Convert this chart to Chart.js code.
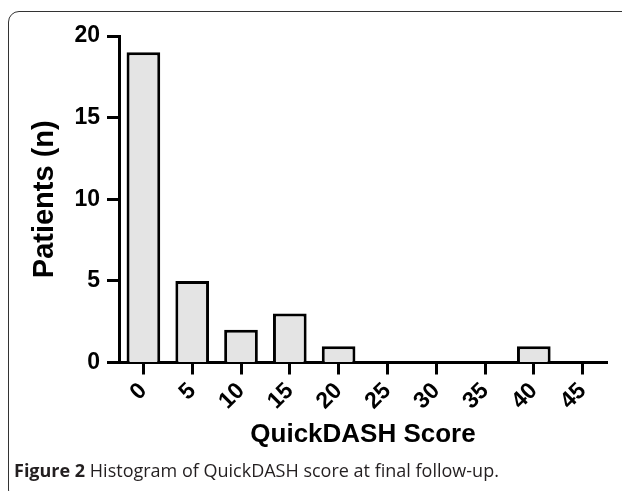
<!DOCTYPE html>
<html>
<head>
<meta charset="utf-8">
<script src="https://cdn.jsdelivr.net/npm/chart.js@4"></script>
<style>
  html, body { margin: 0; padding: 0; width: 622px; height: 491px; overflow: hidden; background: #fff; }
  #frame {
    position: absolute; left: 8px; top: 11px; width: 640px; height: 490px;
    border: 1.5px solid #333; border-radius: 11px; box-sizing: border-box;
  }
  #myChart { position: absolute; left: 0; top: 0; }
  #caption {
    position: absolute; left: 14px; top: 458px; white-space: nowrap;
    font-family: "Open Sans", sans-serif; font-size: 18px; color: #231f20;
  }
  #caption b { font-weight: 700; }
</style>
</head>
<body>
<div id="frame"></div>
<canvas id="myChart" width="622" height="491"></canvas>
<div id="caption"><b>Figure 2</b> Histogram of QuickDASH score at final follow-up.</div>
<script>
// QuickDASH score bins and counts
var scores = ['0', '5', '10', '15', '20', '25', '30', '35', '40', '45'];
var patients = [19, 5, 2, 3, 1, 0, 0, 0, 1, 0];
var yTicks = [0, 5, 10, 15, 20];

var ctx = document.getElementById("myChart");

const histChart = new Chart(ctx, {
    type: 'bar',
    data: {
        labels: scores,
        datasets: [{
            data: patients,
            backgroundColor: '#e4e4e4',
            borderColor: '#000',
            borderWidth: 3,
            categoryPercentage: 1,
            barPercentage: 0.69
        }]
    },
    options: {
        responsive: false,
        animation: false,
        devicePixelRatio: 1,
        layout: { padding: { top: 36, right: 15, left: 0, bottom: 0 } },
        plugins: {
            legend: { display: false },
            tooltip: { enabled: false }
        },
        scales: {
            x: {
                z: 1,
                afterFit: function(scale) { scale.height = 128.5; },
                grid: {
                    drawOnChartArea: false,
                    offset: false,
                    tickLength: 12,
                    tickWidth: 3,
                    tickColor: '#000'
                },
                border: { color: '#000', width: 3 },
                ticks: {
                    autoSkip: false,
                    minRotation: 45,
                    maxRotation: 45,
                    padding: 3,
                    color: '#000',
                    font: { family: 'Liberation Sans', size: 23, weight: 'bold' }
                },
                title: {
                    display: true,
                    text: 'QuickDASH Score',
                    color: '#000',
                    padding: { top: 0, bottom: 41 },
                    font: { family: 'Liberation Sans', size: 26, weight: 'bold' }
                }
            },
            y: {
                z: 1,
                min: 0,
                max: 20,
                afterFit: function(scale) { scale.width = 119; },
                afterBuildTicks: function(scale) {
                    scale.ticks = yTicks.map(function(v) { return { value: v }; });
                },
                grid: {
                    drawOnChartArea: false,
                    tickLength: 12,
                    tickWidth: 3,
                    tickColor: '#000'
                },
                border: { color: '#000', width: 3 },
                ticks: {
                    padding: 7,
                    color: '#000',
                    font: { family: 'Liberation Sans', size: 23, weight: 'bold' }
                },
                title: {
                    display: true,
                    text: 'Patients (n)',
                    color: '#000',
                    padding: { top: 28, bottom: 0 },
                    font: { family: 'Liberation Sans', size: 29, weight: 'bold' }
                }
            }
        }
    }
});
</script>
</body>
</html>
